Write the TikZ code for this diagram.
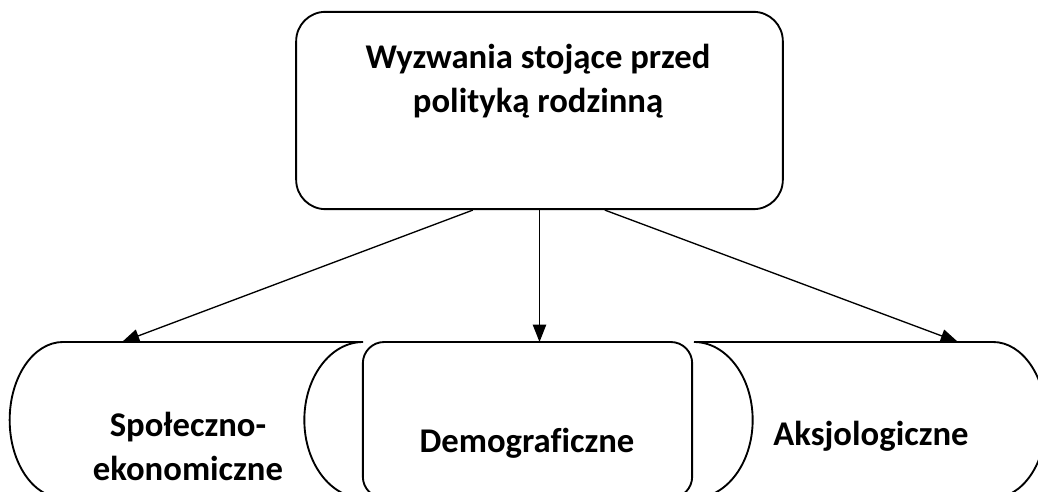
\documentclass[tikz,border=0pt]{standalone}
\usepackage{fontspec}
\setmainfont[Ligatures=NoCommon]{Carlito}
\usetikzlibrary{arrows.meta}

\tikzstyle{box} = [rectangle, draw=black, line width=1.4pt]
\tikzstyle{boxtext} = [align=center, inner sep=0pt, font=\bfseries\fontsize{26}{33}\selectfont]
\tikzstyle{outline} = [draw=black, line width=1.4pt]
\tikzstyle{arrow} = [line width=1pt, -{Triangle[length=13pt, width=10pt]}]

\begin{document}
\begin{tikzpicture}[x=0.75pt, y=0.75pt]

    \clip (0,0) rectangle (1038,492);

    % Draw nodes
    \node (challenge) [box, rounded corners=22pt, minimum width=365pt, minimum height=148pt] at (539.5,381.5) {};
    \node (challengetxt) [boxtext] at (538,411) {Wyzwania stojące przed\\polityką rodzinną};

    \draw [outline] (63,150) -- (363,150)
        arc[start angle=90, end angle=270, x radius=44pt, y radius=58.5pt]
        -- (63,-6)
        arc[start angle=270, end angle=90, x radius=40pt, y radius=58.5pt] -- cycle;
    \node (socio) [boxtext] at (188,45.5) {Społeczno-\\ekonomiczne};

    \node (demo) [box, rounded corners=16pt, minimum width=247pt, minimum height=117pt] at (527.5,72) {};
    \node (demotxt) [boxtext] at (527,48.5) {Demograficzne};

    \draw [outline] (694,150) -- (993,150)
        arc[start angle=90, end angle=-90, x radius=40pt, y radius=58.5pt]
        -- (694,-6)
        arc[start angle=-90, end angle=90, x radius=44pt, y radius=58.5pt] -- cycle;
    \node (axio) [boxtext] at (871,55.5) {Aksjologiczne};

    \coordinate (sociotip) at (122,150);
    \coordinate (demotip) at (539.5,150);
    \coordinate (axiotip) at (958,150);

    % Draw connections
    \draw [arrow] ([xshift=-50pt]challenge.south) -- (sociotip);
    \draw [arrow] (challenge.south) -- (demotip);
    \draw [arrow] ([xshift=49pt]challenge.south) -- (axiotip);

\end{tikzpicture}
\end{document}
